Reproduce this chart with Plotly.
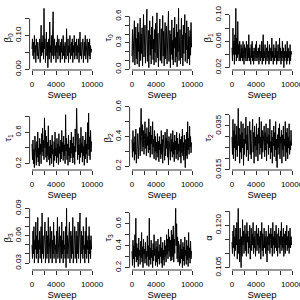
import plotly.graph_objects as go

sweep = list(range(0, 10000, 80))

beta0 = [0.06,0.09,0.04,0.08,0.03,0.10,0.05,0.07,0.02,0.09,
         0.06,0.04,0.08,0.03,0.07,0.05,0.09,0.02,0.06,0.13,
         0.04,0.08,0.05,0.10,0.03,0.18,0.06,0.09,0.02,0.07,
         0.11,0.04,0.08,0.005,0.06,0.09,0.03,0.14,0.05,0.07,
         0.02,0.10,0.04,0.08,0.17,0.03,0.06,0.09,0.04,0.07,
         0.02,0.08,0.05,0.10,0.03,0.06,0.09,0.04,0.07,0.02,
         0.08,0.05,0.09,0.03,0.06,0.10,0.04,0.07,0.02,0.08,
         0.05,0.03,0.12,0.06,0.04,0.09,0.02,0.07,0.05,0.10,
         0.03,0.06,0.08,0.04,0.09,0.02,0.07,0.05,0.10,0.03,
         0.06,0.08,0.04,0.09,0.03,0.07,0.05,0.09,0.02,0.06,
         0.11,0.04,0.08,0.03,0.07,0.05,0.09,0.02,0.06,0.08,
         0.04,0.10,0.03,0.07,0.05,0.09,0.02,0.06,0.08,0.04,
         0.09,0.03,0.07,0.05,0.06]

tau0 = [0.15,0.45,0.08,0.38,0.22,0.55,0.05,0.30,0.48,0.12,
        0.35,0.06,0.52,0.20,0.42,0.03,0.28,0.58,0.10,0.40,
        0.18,0.47,0.04,0.33,0.62,0.14,0.25,0.50,0.07,0.36,
        0.21,0.68,0.09,0.31,0.44,0.02,0.27,0.55,0.16,0.39,
        0.06,0.48,0.23,0.60,0.11,0.34,0.05,0.45,0.19,0.52,
        0.08,0.29,0.64,0.13,0.41,0.03,0.37,0.20,0.57,0.10,
        0.32,0.46,0.07,0.26,0.61,0.15,0.43,0.04,0.35,0.53,
        0.12,0.28,0.49,0.06,0.38,0.22,0.66,0.09,0.30,0.44,
        0.02,0.40,0.17,0.56,0.11,0.33,0.05,0.47,0.24,0.59,
        0.08,0.36,0.14,0.51,0.03,0.42,0.20,0.69,0.10,0.31,
        0.45,0.06,0.27,0.58,0.13,0.39,0.04,0.50,0.18,0.34,
        0.62,0.09,0.41,0.22,0.55,0.07,0.30,0.48,0.12,0.37,
        0.05,0.44,0.16,0.53,0.25]

beta1 = [0.05,0.03,0.08,0.04,0.06,0.025,0.07,0.04,0.11,0.03,
         0.065,0.035,0.09,0.04,0.055,0.03,0.06,0.045,0.03,0.055,
         0.035,0.05,0.03,0.06,0.04,0.025,0.055,0.035,0.05,0.03,
         0.06,0.04,0.03,0.055,0.035,0.07,0.03,0.05,0.04,0.025,
         0.055,0.035,0.06,0.03,0.045,0.025,0.05,0.04,0.03,0.055,
         0.035,0.06,0.03,0.045,0.035,0.05,0.025,0.04,0.055,0.03,
         0.045,0.035,0.06,0.025,0.05,0.07,0.03,0.045,0.035,0.055,
         0.025,0.04,0.05,0.03,0.06,0.035,0.045,0.025,0.055,0.03,
         0.04,0.05,0.03,0.065,0.035,0.045,0.025,0.055,0.04,0.03,
         0.05,0.035,0.06,0.025,0.045,0.03,0.055,0.04,0.03,0.065,
         0.035,0.05,0.025,0.045,0.03,0.06,0.035,0.05,0.02,0.045,
         0.03,0.055,0.035,0.045,0.025,0.06,0.03,0.05,0.035,0.045,
         0.025,0.055,0.03,0.045,0.04]

tau1 = [0.45,0.25,0.50,0.20,0.38,0.15,0.55,0.30,0.42,0.18,
        0.48,0.28,0.60,0.22,0.40,0.17,0.52,0.32,0.45,0.20,
        0.58,0.35,0.65,0.30,0.50,0.25,0.78,0.40,0.62,0.28,
        0.55,0.22,0.47,0.30,0.68,0.25,0.42,0.18,0.50,0.27,
        0.44,0.20,0.56,0.32,0.38,0.16,0.48,0.24,0.60,0.30,
        0.40,0.21,0.52,0.28,0.45,0.19,0.58,0.33,0.42,0.22,
        0.50,0.26,0.62,0.35,0.47,0.24,0.55,0.30,0.44,0.20,
        0.82,0.36,0.52,0.25,0.45,0.18,0.56,0.30,0.40,0.22,
        0.50,0.27,0.60,0.33,0.46,0.21,0.54,0.28,0.42,0.19,
        0.64,0.35,0.48,0.90,0.40,0.25,0.58,0.31,0.44,0.20,
        0.52,0.28,0.66,0.34,0.46,0.22,0.55,0.30,0.42,0.18,
        0.50,0.26,0.60,0.32,0.45,0.21,0.72,0.38,0.84,0.30,
        0.54,0.25,0.62,0.35,0.48]

beta2 = [0.38,0.26,0.44,0.30,0.36,0.24,0.40,0.28,0.45,0.22,
         0.35,0.29,0.42,0.25,0.38,0.31,0.46,0.27,0.36,0.59,
         0.40,0.30,0.48,0.33,0.44,0.28,0.38,0.50,0.32,0.42,
         0.27,0.46,0.34,0.40,0.29,0.52,0.31,0.43,0.26,0.47,
         0.35,0.41,0.28,0.50,0.33,0.38,0.25,0.44,0.30,0.40,
         0.24,0.36,0.29,0.42,0.26,0.37,0.23,0.40,0.31,0.35,
         0.25,0.44,0.28,0.38,0.22,0.41,0.30,0.36,0.24,0.43,
         0.27,0.39,0.32,0.45,0.26,0.37,0.21,0.40,0.29,0.35,
         0.24,0.42,0.30,0.38,0.26,0.44,0.28,0.36,0.23,0.41,
         0.31,0.37,0.25,0.43,0.28,0.39,0.24,0.35,0.30,0.42,
         0.26,0.38,0.22,0.40,0.29,0.45,0.27,0.36,0.24,0.41,
         0.30,0.19,0.38,0.27,0.43,0.25,0.50,0.31,0.39,0.28,
         0.47,0.33,0.40,0.29,0.36]

tau2 = [0.030,0.022,0.038,0.020,0.033,0.025,0.036,0.019,0.031,0.024,
        0.035,0.021,0.029,0.043,0.026,0.034,0.018,0.031,0.023,0.037,
        0.020,0.032,0.025,0.036,0.017,0.029,0.022,0.034,0.027,0.039,
        0.021,0.031,0.024,0.035,0.019,0.030,0.026,0.037,0.022,0.033,
        0.020,0.029,0.025,0.038,0.023,0.032,0.018,0.035,0.026,0.030,
        0.021,0.036,0.024,0.031,0.019,0.034,0.027,0.039,0.022,0.030,
        0.025,0.037,0.020,0.033,0.023,0.029,0.026,0.035,0.021,0.032,
        0.024,0.036,0.019,0.030,0.027,0.034,0.022,0.031,0.025,0.038,
        0.020,0.028,0.023,0.033,0.018,0.030,0.026,0.035,0.021,0.032,
        0.024,0.037,0.019,0.029,0.016,0.031,0.025,0.034,0.022,0.036,
        0.020,0.030,0.027,0.033,0.018,0.031,0.024,0.035,0.021,0.029,
        0.026,0.037,0.019,0.032,0.023,0.034,0.020,0.030,0.025,0.036,
        0.022,0.028,0.024,0.033,0.026]

beta3 = [0.05,0.035,0.065,0.04,0.07,0.03,0.055,0.045,0.075,0.035,
         0.06,0.04,0.08,0.03,0.055,0.045,0.065,0.035,0.05,0.07,
         0.03,0.085,0.04,0.06,0.035,0.055,0.045,0.075,0.03,0.05,
         0.065,0.035,0.06,0.04,0.08,0.03,0.055,0.045,0.07,0.035,
         0.05,0.065,0.03,0.055,0.04,0.075,0.035,0.06,0.045,0.05,
         0.03,0.065,0.04,0.08,0.035,0.055,0.045,0.07,0.03,0.05,
         0.06,0.035,0.075,0.04,0.055,0.03,0.065,0.045,0.05,0.035,
         0.07,0.025,0.09,0.04,0.06,0.035,0.055,0.045,0.075,0.03,
         0.05,0.065,0.035,0.06,0.04,0.08,0.03,0.055,0.045,0.07,
         0.035,0.05,0.065,0.03,0.06,0.04,0.075,0.035,0.055,0.045,
         0.085,0.03,0.05,0.065,0.04,0.06,0.035,0.07,0.045,0.05,
         0.03,0.065,0.04,0.08,0.035,0.055,0.045,0.06,0.03,0.07,
         0.04,0.055,0.035,0.06,0.045]

tau3 = [0.35,0.22,0.45,0.28,0.40,0.20,0.50,0.30,0.65,0.25,
        0.42,0.27,0.38,0.21,0.47,0.31,0.36,0.23,0.44,0.29,
        0.52,0.25,0.39,0.20,0.46,0.32,0.37,0.24,0.43,0.28,
        0.35,0.22,0.49,0.30,0.40,0.21,0.65,0.27,0.38,0.23,
        0.45,0.29,0.36,0.20,0.42,0.26,0.50,0.31,0.37,0.22,
        0.44,0.25,0.39,0.21,0.46,0.28,0.35,0.23,0.41,0.30,
        0.48,0.24,0.38,0.20,0.43,0.27,0.36,0.22,0.45,0.30,
        0.40,0.25,0.50,0.32,0.46,0.28,0.55,0.35,0.48,0.30,
        0.45,0.26,0.54,0.27,0.50,0.30,0.58,0.25,0.46,0.33,
        0.52,0.74,0.40,0.60,0.28,0.48,0.25,0.44,0.34,0.22,
        0.41,0.24,0.46,0.28,0.37,0.20,0.43,0.26,0.39,0.22,
        0.48,0.31,0.36,0.23,0.45,0.27,0.40,0.21,0.52,0.29,
        0.38,0.24,0.44,0.28,0.35]

alpha = [0.114,0.110,0.118,0.112,0.120,0.109,0.116,0.111,0.119,0.113,
         0.121,0.108,0.117,0.126,0.110,0.115,0.107,0.119,0.112,0.105,
         0.116,0.109,0.122,0.113,0.118,0.110,0.115,0.120,0.111,0.117,
         0.109,0.121,0.114,0.118,0.110,0.116,0.112,0.120,0.108,0.115,
         0.119,0.111,0.117,0.113,0.121,0.110,0.116,0.112,0.118,0.109,
         0.115,0.120,0.111,0.117,0.113,0.119,0.110,0.116,0.112,0.118,
         0.108,0.115,0.121,0.111,0.117,0.109,0.114,0.119,0.112,0.116,
         0.110,0.118,0.113,0.107,0.116,0.111,0.120,0.113,0.117,0.110,
         0.115,0.119,0.112,0.117,0.109,0.121,0.113,0.116,0.110,0.118,
         0.112,0.115,0.120,0.111,0.117,0.109,0.114,0.119,0.112,0.116,
         0.110,0.118,0.113,0.121,0.111,0.116,0.112,0.119,0.109,0.115,
         0.117,0.110,0.118,0.113,0.120,0.111,0.116,0.112,0.118,0.110,
         0.115,0.119,0.112,0.116,0.113]

x_tickvals = [0, 2000, 4000, 6000, 8000, 10000]
x_ticktext = ["0", "", "4000", "", "", "10000"]

panels = [
    ("β<sub>0</sub>", beta0, [0.00, 0.05, 0.10, 0.15], ["0.00", "", "0.10", ""]),
    ("τ<sub>0</sub>", tau0, [0.0, 0.1, 0.2, 0.3, 0.4, 0.5, 0.6], ["0.0", "", "", "0.3", "", "", "0.6"]),
    ("β<sub>1</sub>", beta1, [0.02, 0.04, 0.06, 0.08, 0.10], ["0.02", "", "0.06", "", "0.10"]),
    ("τ<sub>1</sub>", tau1, [0.2, 0.4, 0.6, 0.8], ["0.2", "", "0.6", ""]),
    ("β<sub>2</sub>", beta2, [0.2, 0.3, 0.4, 0.5, 0.6], ["0.2", "", "0.4", "", "0.6"]),
    ("τ<sub>2</sub>", tau2, [0.015, 0.020, 0.025, 0.030, 0.035, 0.040], ["0.015", "", "", "", "0.035", ""]),
    ("β<sub>3</sub>", beta3, [0.03, 0.04, 0.05, 0.06, 0.07, 0.08, 0.09], ["0.03", "", "", "0.06", "", "", "0.09"]),
    ("τ<sub>3</sub>", tau3, [0.2, 0.3, 0.4, 0.5, 0.6, 0.7], ["0.2", "", "0.4", "", "0.6", ""]),
    ("α", alpha, [0.105, 0.110, 0.115, 0.120, 0.125], ["0.105", "", "", "0.120", ""]),
]

FONT = "Liberation Sans, Arial, Helvetica, sans-serif"
fig = go.Figure()
layout = dict(width=300, height=300, margin=dict(l=0, r=0, t=0, b=0, autoexpand=False),
              paper_bgcolor="white", plot_bgcolor="white", showlegend=False,
              font=dict(family=FONT, size=8, color="black"))
shapes = []
W = H = 300.0
for k, (title, vals, yt, ytt) in enumerate(panels):
    r, c = divmod(k, 3)
    n = "" if k == 0 else str(k + 1)
    fig.add_trace(go.Scatter(x=sweep, y=vals, mode="lines",
                             line=dict(color="black", width=1.0),
                             xaxis="x" + n, yaxis="y" + n, hoverinfo="skip"))
    lo, hi = min(vals), max(vals)
    pad = 0.04 * (hi - lo)
    xd = [(100 * c + 29.6) / W, (100 * c + 94.4) / W]
    yd = [1 - (100 * r + 70) / H, 1 - (100 * r + 6) / H]
    layout["xaxis" + n] = dict(domain=xd, anchor="y" + n, range=[-400, 10400],
                               automargin=False, ticklabeloverflow="allow",
                               tickvals=x_tickvals, ticktext=x_ticktext,
                               ticks="outside", ticklen=4, tickwidth=0.8, tickcolor="black",
                               showline=False, showgrid=False, zeroline=False,
                               ticklabelstandoff=2,
                               tickfont=dict(family=FONT, size=8, color="black"),
                               title=dict(text="Sweep", standoff=0,
                                          font=dict(family=FONT, size=9.5, color="black")))
    layout["yaxis" + n] = dict(domain=yd, anchor="x" + n, range=[lo - pad, hi + pad],
                               automargin=False, ticklabeloverflow="allow",
                               tickvals=yt, ticktext=ytt, tickangle=-90,
                               ticks="outside", ticklen=4, tickwidth=0.8, tickcolor="black",
                               showline=False, showgrid=False, zeroline=False,
                               ticklabelstandoff=0,
                               tickfont=dict(family=FONT, size=8, color="black"),
                               title=dict(text=title, standoff=0,
                                          font=dict(family=FONT, size=9.5, color="black")))
    shapes.append(dict(type="line", xref="x" + n, yref="y" + n + " domain",
                       x0=x_tickvals[0], x1=x_tickvals[-1], y0=0, y1=0,
                       line=dict(color="black", width=0.8)))
    shapes.append(dict(type="line", xref="x" + n + " domain", yref="y" + n,
                       x0=0, x1=0, y0=yt[0], y1=yt[-1],
                       line=dict(color="black", width=0.8)))
layout["shapes"] = shapes
fig.update_layout(**layout)
fig.write_html("out.html", config={"displayModeBar": False, "staticPlot": True},
               post_script="document.body.style.margin='0';document.body.style.padding='0';")
